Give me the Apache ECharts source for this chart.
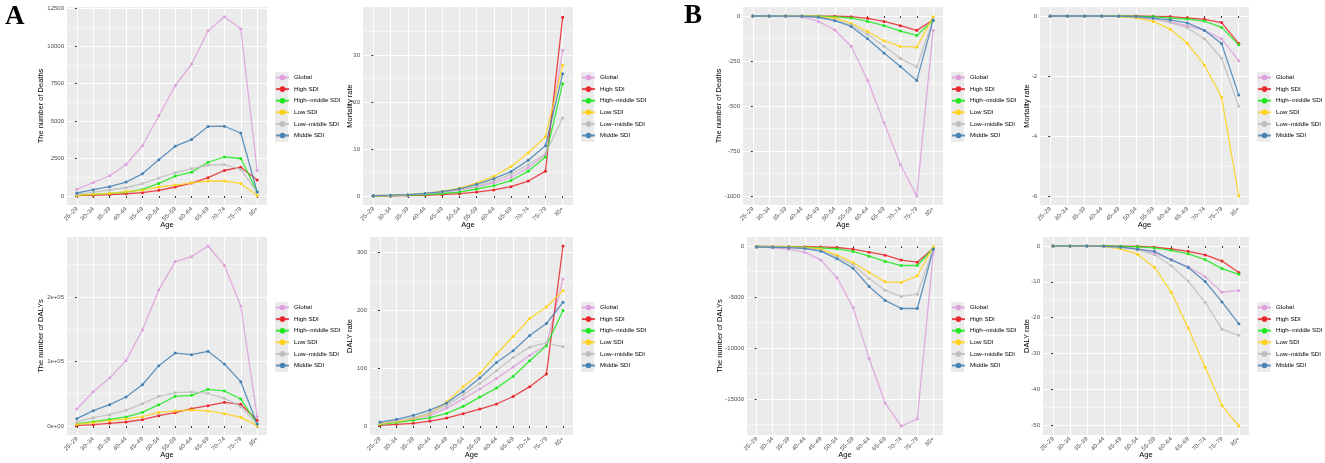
<!DOCTYPE html>
<html>
<head>
<meta charset="utf-8">
<script src="https://cdn.jsdelivr.net/npm/echarts@6/dist/echarts.min.js"></script>
<style>
  html, body { margin: 0; padding: 0; background: #fff; }
  #main { width: 1325px; height: 463px; }
</style>
</head>
<body>
<div id="main"></div>
<script>
// age groups on the x axis
var ages = ['25–29', '30–34', '35–39', '40–44', '45–49', '50–54', '55–59', '60–64', '65–69', '70–74', '75–79', '85+'];
var groups = ['Global', 'High SDI', 'High–middle SDI', 'Low SDI', 'Low–middle SDI', 'Middle SDI'];
var colors = ['#DDA0DD', '#E8262B', '#1FE81F', '#FFD21A', '#BEBEBE', '#4682B4'];

// rows follow groups: Global, High, High-middle, Low, Low-middle, Middle
// A - number of deaths
var aDeaths = [
  [450, 900, 1350, 2100, 3350, 5350, 7350, 8800, 11000, 11950, 11150, 1700],
  [20, 40, 90, 150, 220, 380, 600, 860, 1220, 1700, 1920, 1060],
  [70, 110, 180, 265, 440, 840, 1330, 1590, 2250, 2600, 2500, 290],
  [40, 110, 180, 290, 380, 600, 730, 880, 1000, 1000, 840, 40],
  [110, 265, 400, 550, 820, 1200, 1550, 1830, 2050, 2100, 1770, 250],
  [200, 420, 620, 930, 1480, 2410, 3320, 3760, 4640, 4650, 4200, 270]
];
// A - mortality rate
var aMort = [
  [0.06, 0.12, 0.22, 0.4, 0.75, 1.3, 1.9, 2.8, 4.0, 6.0, 8.8, 31],
  [0.02, 0.05, 0.08, 0.15, 0.3, 0.5, 0.85, 1.3, 2.0, 3.2, 5.3, 38],
  [0.04, 0.08, 0.15, 0.3, 0.55, 0.85, 1.5, 2.2, 3.3, 5.3, 8.3, 23.9],
  [0.1, 0.17, 0.3, 0.55, 1.0, 1.7, 2.75, 4.2, 6.3, 9.2, 12.6, 27.8],
  [0.08, 0.15, 0.25, 0.5, 0.85, 1.4, 2.1, 3.2, 4.6, 6.7, 9.0, 16.6],
  [0.1, 0.18, 0.3, 0.55, 0.95, 1.55, 2.5, 3.7, 5.2, 7.6, 10.7, 26]
];
// A - number of DALYs
var aDalys = [
  [26400, 53200, 74400, 101300, 148800, 210900, 254800, 262500, 279000, 249000, 186000, 14500],
  [500, 2000, 4100, 6200, 9800, 16000, 20700, 26900, 31500, 36700, 33600, 8800],
  [3100, 6700, 10300, 14000, 21200, 33000, 46000, 47500, 56800, 54300, 41900, 3100],
  [2600, 5200, 8300, 10900, 14500, 21200, 23300, 24800, 23300, 19100, 13400, 500],
  [6200, 12900, 17600, 24300, 34600, 46000, 51700, 52700, 50600, 42900, 30000, 2600],
  [11400, 23800, 33000, 45000, 64000, 93500, 113000, 110600, 115800, 96100, 68700, 3100]
];
// A - DALY rate
var aDalyRate = [
  [4, 7.5, 11.5, 18.4, 31, 47, 64, 82, 102, 122, 140, 254],
  [1.1, 2.9, 4.6, 8.6, 13.8, 21.3, 29.3, 38, 51, 68, 90, 311],
  [3, 5.7, 9.8, 14.4, 21.8, 34, 50, 65.5, 85.6, 112.6, 138.5, 199.4],
  [4, 7.5, 13.2, 21.3, 41.4, 67.8, 90.8, 124, 154.6, 185.6, 205.7, 233.9],
  [5.2, 9.2, 14.4, 22.4, 35.6, 54, 73.6, 95.4, 118.4, 136.2, 143.7, 136.8],
  [6.9, 11.5, 18.4, 27.6, 39.7, 59.8, 82.8, 109.8, 129.9, 156.3, 177, 213.8]
];
// B - number of deaths
var bDeaths = [
  [-0.5, -1, -2, -5, -30, -78, -168, -357, -592, -825, -1000, -80],
  [0, 0, 0, -0.3, -0.5, -1, -4, -13, -30, -54, -80, -22],
  [0, 0, 0, -0.5, -1, -5, -11, -30, -54, -84, -108, -25],
  [0, 0, 0, -1, -3, -11, -41, -86, -138, -169, -173, -4],
  [0, 0, 0, -1, -7, -22, -50, -102, -168, -235, -283, -19],
  [0, 0, -0.5, -1, -7, -26, -58, -127, -205, -281, -359, -24]
];
// B - mortality rate
var bMort = [
  [0, 0, 0, 0, -0.01, -0.05, -0.1, -0.19, -0.33, -0.48, -0.76, -1.49],
  [0, 0, 0, 0, 0, 0, -0.01, -0.02, -0.06, -0.11, -0.22, -0.92],
  [0, 0, 0, 0, 0, -0.01, -0.02, -0.07, -0.1, -0.17, -0.38, -0.96],
  [0, 0, 0, 0, -0.02, -0.06, -0.18, -0.44, -0.91, -1.64, -2.71, -6.0],
  [0, 0, 0, 0, -0.01, -0.03, -0.09, -0.22, -0.39, -0.76, -1.41, -3.01],
  [0, 0, 0, 0, -0.01, -0.02, -0.07, -0.13, -0.23, -0.48, -0.92, -2.63]
];
// B - number of DALYs
var bDalys = [
  [-100, -160, -300, -590, -1370, -3100, -6010, -11020, -15400, -17660, -16970, -650],
  [-20, -30, -40, -50, -70, -130, -300, -590, -880, -1370, -1570, -200],
  [-30, -50, -70, -100, -180, -260, -520, -980, -1500, -1900, -1900, -200],
  [-40, -60, -90, -130, -280, -880, -1600, -2580, -3500, -3560, -2910, -30],
  [-60, -80, -120, -190, -420, -1080, -1830, -3170, -4320, -4940, -4710, -260],
  [-80, -110, -150, -230, -490, -1240, -2160, -3960, -5330, -6120, -6120, -300]
];
// B - DALY rate
var bDalyRate = [
  [0, 0, 0, -0.1, -0.3, -0.75, -1.9, -3.8, -5.8, -8.6, -12.9, -12.4],
  [0, 0, 0, 0, -0.05, -0.1, -0.35, -0.85, -1.5, -2.5, -4.2, -7.4],
  [0, 0, 0, 0, -0.1, -0.25, -0.55, -1.2, -2.2, -3.8, -6.3, -7.9],
  [0, 0, 0, -0.15, -0.8, -2.3, -6.0, -12.9, -22.9, -33.8, -44.5, -50.2],
  [0, 0, 0, -0.1, -0.4, -1.1, -2.4, -5.5, -9.8, -15.7, -23.2, -24.9],
  [0, 0, 0, -0.1, -0.35, -0.9, -1.5, -3.9, -6.0, -9.9, -15.6, -21.7]
];

// y tick labels (major) and minor grid positions
var aDeathsTicks = [0, 2500, 5000, 7500, 10000, 12500];
var aDeathsMinor = [1250, 3750, 6250, 8750, 11250];
var aMortTicks = [0, 10, 20, 30];
var aMortMinor = [5, 15, 25, 35];
var aDalysTicks = [0, 100000, 200000];
var aDalysMinor = [50000, 150000, 250000];
var aDalyRateTicks = [0, 100, 200, 300];
var aDalyRateMinor = [50, 150, 250];
var bDeathsTicks = [-1000, -750, -500, -250, 0];
var bDeathsMinor = [-875, -625, -375, -125];
var bMortTicks = [-6, -4, -2, 0];
var bMortMinor = [-5, -3, -1];
var bDalysTicks = [-15000, -10000, -5000, 0];
var bDalysMinor = [-17500, -12500, -7500, -2500];
var bDalyRateTicks = [-50, -40, -30, -20, -10, 0];
var bDalyRateMinor = [-45, -35, -25, -15, -5];

var xIdx = ages.map(function (a, i) { return i; });

function expFmt(v) {
  if (v === 0) return '0e+00';
  return (v / 100000) + 'e+05';
}

// layout of the eight panels
var panels = [
  {data: aDeaths, ticks: aDeathsTicks, minor: aDeathsMinor, min: -600, max: 12600, name: 'The number of Deaths', left: 67, top: 7, width: 200, gap: 21.6},
  {data: aMort, ticks: aMortTicks, minor: aMortMinor, min: -1.9, max: 40.2, name: 'Mortality rate', left: 363, top: 7, width: 210, gap: 9.3},
  {data: bDeaths, ticks: bDeathsTicks, minor: bDeathsMinor, min: -1050, max: 50, name: 'The number of Deaths', left: 743, top: 7, width: 200, gap: 20.5},
  {data: bMort, ticks: bMortTicks, minor: bMortMinor, min: -6.3, max: 0.3, name: 'Mortality rate', left: 1040, top: 7, width: 209, gap: 9.3},
  {data: aDalys, ticks: aDalysTicks, minor: aDalysMinor, min: -13950, max: 292950, name: 'The number of DALYs', left: 67, top: 237, width: 200, gap: 21.6, fmt: expFmt},
  {data: aDalyRate, ticks: aDalyRateTicks, minor: aDalyRateMinor, min: -15.5, max: 326.5, name: 'DALY rate', left: 370, top: 237, width: 203, gap: 16.3},
  {data: bDalys, ticks: bDalysTicks, minor: bDalysMinor, min: -18540, max: 900, name: 'The number of DALYs', left: 747, top: 237, width: 196, gap: 23.5},
  {data: bDalyRate, ticks: bDalyRateTicks, minor: bDalyRateMinor, min: -52.7, max: 2.5, name: 'DALY rate', left: 1043, top: 237, width: 206, gap: 12.3}
];

var grid = [], xAxis = [], yAxis = [], series = [], legend = [], graphic = [];
var plotH = 198;

panels.forEach(function (p, k) {
  grid.push({left: p.left, top: p.top, width: p.width, height: plotH, backgroundColor: '#EBEBEB', show: true, borderWidth: 0});
  xAxis.push({
    gridIndex: k, type: 'value', min: -0.6, max: 11.6,
    name: 'Age', nameLocation: 'middle', nameGap: 16, nameMoveOverlap: false,
    nameTextStyle: {fontSize: 7.5, color: '#000', fontFamily: 'Liberation Sans'},
    axisLine: {show: false},
    axisTick: {show: true, length: 2, lineStyle: {color: '#333'}, customValues: xIdx},
    axisLabel: {customValues: xIdx, rotate: 45, fontSize: 6, color: '#4D4D4D', margin: 3, fontFamily: 'Liberation Sans',
      formatter: function (v) { return ages[Math.round(v)]; }},
    splitLine: {show: true, lineStyle: {color: '#fff', width: 1}}
  });
  // major axis with labels
  yAxis.push({
    gridIndex: k, type: 'value', min: p.min, max: p.max, position: 'left',
    name: p.name, nameLocation: 'middle', nameGap: p.gap, nameRotate: 90, nameMoveOverlap: false,
    nameTextStyle: {fontSize: 7.5, color: '#000', fontFamily: 'Liberation Sans'},
    axisLine: {show: false},
    axisTick: {show: true, length: 2, lineStyle: {color: '#333'}, customValues: p.ticks},
    axisLabel: {customValues: p.ticks, fontSize: 6, color: '#4D4D4D', margin: 3, fontFamily: 'Liberation Sans',
      formatter: p.fmt || function (v) { return String(v); }},
    splitLine: {show: true, lineStyle: {color: '#fff', width: 1}}
  });
  // minor grid lines
  yAxis.push({
    gridIndex: k, type: 'value', min: p.min, max: p.max, position: 'left',
    axisLine: {show: false},
    axisTick: {show: false, customValues: p.minor},
    axisLabel: {show: false, customValues: p.minor},
    splitLine: {show: true, lineStyle: {color: '#fff', width: 0.5}}
  });
  p.data.forEach(function (vals, g) {
    series.push({
      name: groups[g], type: 'line', xAxisIndex: k, yAxisIndex: k * 2,
      data: vals.map(function (v, i) { return [i, v]; }),
      symbol: 'circle', symbolSize: 3,
      itemStyle: {color: colors[g]},
      lineStyle: {color: colors[g], width: 1.3, opacity: 0.85},
      emphasis: {disabled: true}
    });
  });
  var lx = p.left + p.width + 8;
  var ly = p.top + 65;
  graphic.push({type: 'rect', left: lx, top: ly, shape: {width: 13, height: 70}, style: {fill: '#EBEBEB'}, z: -1});
  legend.push({
    orient: 'vertical', left: lx, top: ly + 2, padding: 0,
    itemWidth: 13, itemHeight: 7, itemGap: 4.6,
    data: groups,
    textStyle: {fontSize: 6.2, color: '#000', fontFamily: 'Liberation Sans', lineHeight: 7},
    selectedMode: false
  });
});

graphic.push({type: 'text', left: 5, top: 4, style: {text: 'A', font: 'bold 27px "Liberation Serif"', fill: '#000'}});
graphic.push({type: 'text', left: 684, top: 3, style: {text: 'B', font: 'bold 27px "Liberation Serif"', fill: '#000'}});

var myChart = echarts.init(document.getElementById('main'));
myChart.setOption({
  animation: false,
  backgroundColor: '#fff',
  grid: grid,
  xAxis: xAxis,
  yAxis: yAxis,
  legend: legend,
  graphic: graphic,
  series: series
});
</script>
</body>
</html>
